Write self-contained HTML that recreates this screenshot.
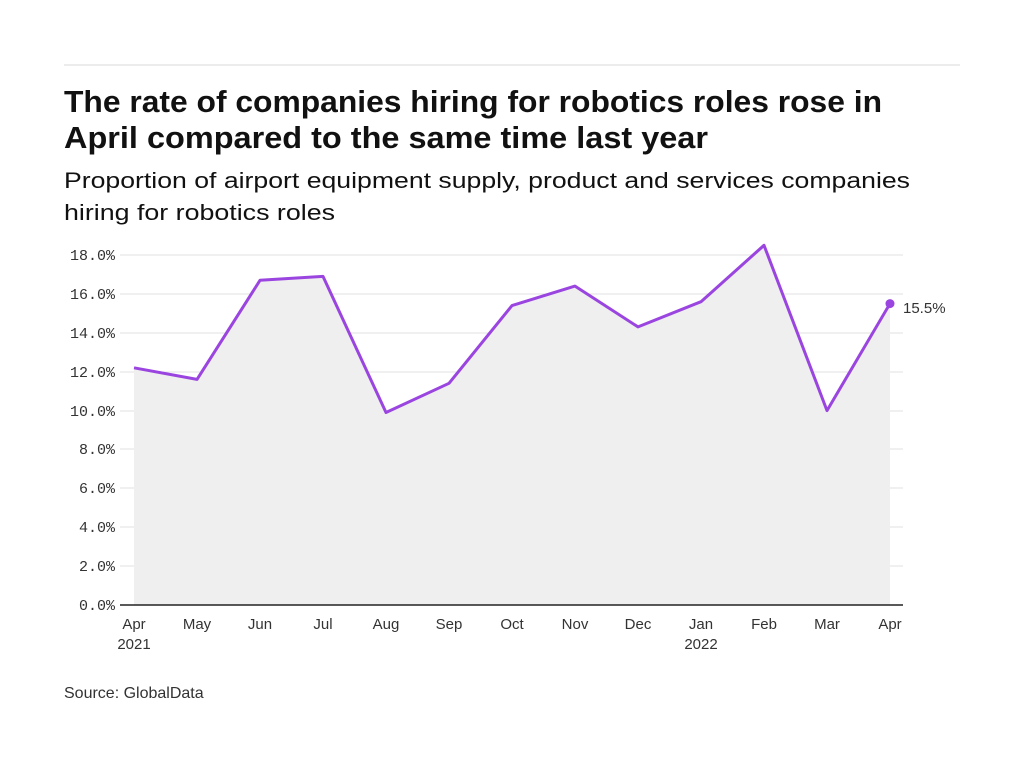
<!DOCTYPE html>
<html><head><meta charset="utf-8"><style>
html,body{margin:0;padding:0;background:#fff;width:1024px;height:768px;overflow:hidden}
svg{display:block}
</style></head><body>
<svg width="1024" height="768" viewBox="0 0 1024 768" xmlns="http://www.w3.org/2000/svg">
<rect width="1024" height="768" fill="#fff"/>
<line x1="64" y1="65" x2="960" y2="65" stroke="#d8d8d8" stroke-width="1"/>
<g font-family="Liberation Sans, sans-serif" fill="#111">
<text x="64" y="112" font-size="31" font-weight="bold" textLength="818" lengthAdjust="spacingAndGlyphs">The rate of companies hiring for robotics roles rose in</text>
<text x="64" y="148" font-size="31" font-weight="bold" textLength="644" lengthAdjust="spacingAndGlyphs">April compared to the same time last year</text>
<text x="64" y="188" font-size="22" textLength="846" lengthAdjust="spacingAndGlyphs">Proportion of airport equipment supply, product and services companies</text>
<text x="64" y="220" font-size="22" textLength="271" lengthAdjust="spacingAndGlyphs">hiring for robotics roles</text>
<text x="64" y="698" font-size="16" fill="#333">Source: GlobalData</text>
</g>
<g stroke="#e2e2e2" stroke-width="1">
<line x1="120" y1="255" x2="903" y2="255"/>
<line x1="120" y1="294" x2="903" y2="294"/>
<line x1="120" y1="333" x2="903" y2="333"/>
<line x1="120" y1="372" x2="903" y2="372"/>
<line x1="120" y1="411" x2="903" y2="411"/>
<line x1="120" y1="449" x2="903" y2="449"/>
<line x1="120" y1="488" x2="903" y2="488"/>
<line x1="120" y1="527" x2="903" y2="527"/>
<line x1="120" y1="566" x2="903" y2="566"/>
</g>
<polygon fill="#efefef" points="134,605 134,367.8 197,379.4 260,280.3 323,276.4 386,412.5 449,383.3 512,305.6 575,286.1 638,326.9 701,301.7 764,245.3 827,410.6 890,303.6 890,605"/>
<polyline fill="none" stroke="#9b45e0" stroke-width="3" stroke-linejoin="round" points="134,367.8 197,379.4 260,280.3 323,276.4 386,412.5 449,383.3 512,305.6 575,286.1 638,326.9 701,301.7 764,245.3 827,410.6 890,303.6"/>
<circle cx="890" cy="303.6" r="4.5" fill="#9b45e0"/>
<line x1="120" y1="605" x2="903" y2="605" stroke="#222" stroke-width="1.5"/>
<g font-family="Liberation Mono, monospace" font-size="15" fill="#333" text-anchor="end">
<text x="115" y="260">18.0%</text>
<text x="115" y="299">16.0%</text>
<text x="115" y="338">14.0%</text>
<text x="115" y="377">12.0%</text>
<text x="115" y="416">10.0%</text>
<text x="115" y="454">8.0%</text>
<text x="115" y="493">6.0%</text>
<text x="115" y="532">4.0%</text>
<text x="115" y="571">2.0%</text>
<text x="115" y="610">0.0%</text>
</g>
<text x="903" y="313" font-family="Liberation Sans, sans-serif" font-size="15" fill="#333">15.5%</text>
<g font-family="Liberation Sans, sans-serif" font-size="15" fill="#333" text-anchor="middle">
<text x="134" y="629">Apr</text><text x="134" y="649">2021</text>
<text x="197" y="629">May</text>
<text x="260" y="629">Jun</text>
<text x="323" y="629">Jul</text>
<text x="386" y="629">Aug</text>
<text x="449" y="629">Sep</text>
<text x="512" y="629">Oct</text>
<text x="575" y="629">Nov</text>
<text x="638" y="629">Dec</text>
<text x="701" y="629">Jan</text><text x="701" y="649">2022</text>
<text x="764" y="629">Feb</text>
<text x="827" y="629">Mar</text>
<text x="890" y="629">Apr</text>
</g>
</svg>
</body></html>
